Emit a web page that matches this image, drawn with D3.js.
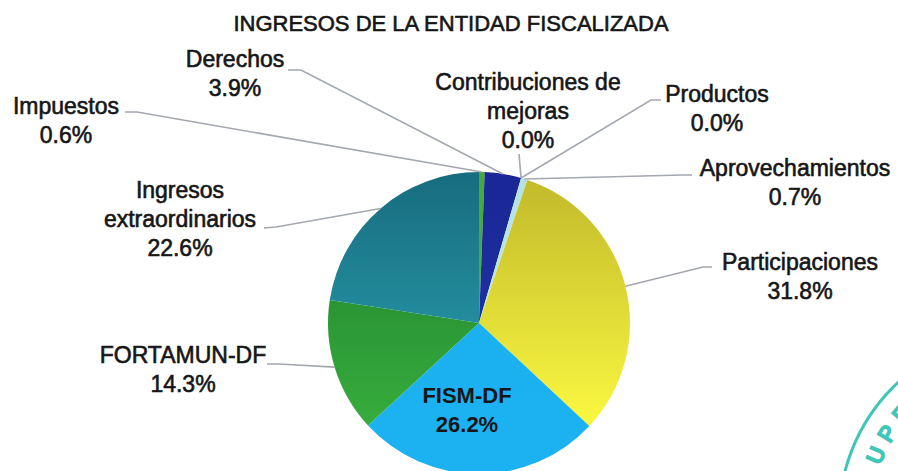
<!DOCTYPE html>
<html>
<head>
<meta charset="utf-8">
<script src="https://cdn.jsdelivr.net/npm/d3@7"></script>
<style>
  body { margin: 0; background: #fff; }
  svg { display: block; }
</style>
</head>
<body>
<script>
const width = 898, height = 471;

// chart data
const categories = ["Impuestos", "Derechos", "Contribuciones de mejoras", "Productos",
  "Aprovechamientos", "Participaciones", "FISM-DF", "FORTAMUN-DF", "Ingresos extraordinarios"];
const shares = [0.6, 3.9, 0.0, 0.0, 0.7, 31.8, 26.2, 14.3, 22.6];
const labelLines = [["Impuestos"], ["Derechos"], ["Contribuciones de", "mejoras"], ["Productos"],
  ["Aprovechamientos"], ["Participaciones"], ["FISM-DF"], ["FORTAMUN-DF"], ["Ingresos", "extraordinarios"]];

// fill colours, top and bottom of a vertical shade
const colorsTop = ["#46a83a", "#1a2796", "#b8e6e2", "#b8e6e2", "#b4e2e0", "#c0b82a", "#1aaeee", "#1a7d2a", "#176c7e"];
const colorsBottom = ["#4cb23e", "#2035a6", "#b8e6e2", "#b8e6e2", "#c0ece8", "#f8f540", "#1cb2f2", "#36aa3c", "#2aa0b0"];

// where each label sits, and the elbow of its leader line
const labelLayout = [
  { x: 66, y: 114, lead: [[125, 112], [137, 112]] },
  { x: 235, y: 67, lead: [[288, 70], [301, 70]] },
  { x: 528, y: 90, lead: [[519, 154]] },
  { x: 717, y: 102, lead: [[661, 100], [651, 100]] },
  { x: 795, y: 176, lead: [[692, 175], [682, 175]] },
  { x: 800, y: 270, lead: [[712, 267], [703, 267]] },
  { x: 467, y: 403, inside: true },
  { x: 183, y: 363, lead: [[267, 364], [279, 364]] },
  { x: 180, y: 198, lead: [[264, 228], [276, 227]] }
];

const cx = 479, cy = 323, r = 151;
const fmt = d3.format(".1f");

const svg = d3.select("body").append("svg")
  .attr("width", width)
  .attr("height", height);

// gradients live in the pie group's own coordinates
const defs = svg.append("defs");
categories.forEach(function (c, i) {
  const g = defs.append("linearGradient")
    .attr("id", "grad" + i)
    .attr("gradientUnits", "userSpaceOnUse")
    .attr("x1", 0).attr("y1", -r)
    .attr("x2", 0).attr("y2", r * 0.6);
  g.append("stop").attr("offset", 0).attr("stop-color", colorsTop[i]);
  g.append("stop").attr("offset", 1).attr("stop-color", colorsBottom[i]);
});

// stamp in the corner of the scan
const stamp = svg.append("g").attr("fill", "none").attr("stroke", "#40c6b6");
stamp.append("circle").attr("cx", 1024).attr("cy", 518).attr("r", 185).attr("stroke-width", 3);
const stampLetters = ["U", "P", "E"];
stampLetters.forEach(function (ch, i) {
  const a = (203 + i * 8.7) * Math.PI / 180;
  const px = 1024 + 161 * Math.cos(a), py = 518 + 161 * Math.sin(a);
  svg.append("text")
    .attr("transform", "translate(" + px + "," + py + ") rotate(" + (a * 180 / Math.PI + 90) + ")")
    .attr("text-anchor", "middle")
    .attr("dy", "0.35em")
    .attr("font-family", "Liberation Sans, Arial, sans-serif")
    .attr("font-size", 22)
    .attr("fill", "none")
    .attr("stroke", "#40c6b6")
    .attr("stroke-width", 2)
    .text(ch);
});

// pie
const pie = d3.pie().sort(null).value(function (d) { return d; });
const arcs = pie(shares);
const arc = d3.arc().innerRadius(0).outerRadius(r);
const edge = d3.arc().innerRadius(r).outerRadius(r);

const g = svg.append("g").attr("transform", "translate(" + cx + "," + cy + ")");
g.selectAll("path")
  .data(arcs)
  .enter()
  .append("path")
  .attr("d", arc)
  .attr("fill", function (d, i) { return "url(#grad" + i + ")"; });

// leader lines
const line = d3.line();
arcs.forEach(function (d, i) {
  const lay = labelLayout[i];
  if (lay.inside) return;
  const p = edge.centroid(d);
  const pts = lay.lead.concat([[cx + p[0], cy + p[1]]]);
  svg.append("path")
    .attr("d", line(pts))
    .attr("fill", "none")
    .attr("stroke", "#a3a7b0")
    .attr("stroke-width", 1.6);
});

// labels
const font = "Liberation Sans, Arial, sans-serif";
categories.forEach(function (c, i) {
  const lay = labelLayout[i];
  const lines = labelLines[i].concat([fmt(shares[i]) + "%"]);
  const t = svg.append("text")
    .attr("text-anchor", "middle")
    .attr("font-family", font)
    .attr("font-size", lay.inside ? 22 : 23)
    .attr("font-weight", lay.inside ? "bold" : "normal")
    .attr("fill", "#161616")
    .attr("stroke", "#161616")
    .attr("stroke-width", lay.inside ? 0 : 0.6);
  lines.forEach(function (s, k) {
    t.append("tspan")
      .attr("x", lay.x)
      .attr("y", lay.y + k * 29)
      .text(s);
  });
});

// title
svg.append("text")
  .attr("x", 451)
  .attr("y", 31)
  .attr("text-anchor", "middle")
  .attr("font-family", font)
  .attr("font-size", 22)
  .attr("fill", "#161616")
  .attr("stroke", "#161616")
  .attr("stroke-width", 0.6)
  .text("INGRESOS DE LA ENTIDAD FISCALIZADA");
</script>
</body>
</html>
